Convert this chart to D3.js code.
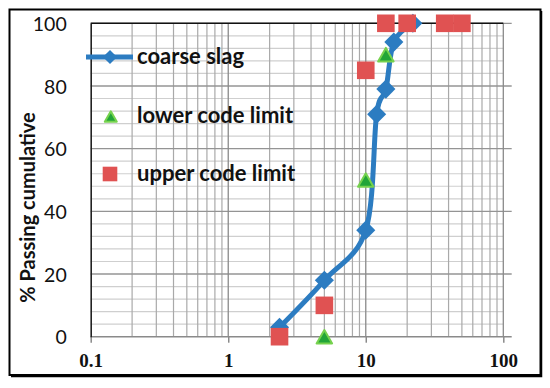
<!DOCTYPE html>
<html>
<head>
<meta charset="utf-8">
<script src="https://cdn.jsdelivr.net/npm/d3@7"></script>
<style>
  body { margin: 0; background: #fff; }
  svg { display: block; }
</style>
</head>
<body>
<div id="chart"></div>
<script>
// sieve size (mm) vs cumulative % passing
const slagSize = [2.36, 5, 10, 12, 14, 16, 22];
const slagPass = [3, 18, 34, 71, 79, 94, 100];
const lowerSize = [5, 10, 14];
const lowerPass = [0, 50, 90];
const upperSize = [2.36, 5, 10, 14, 20, 37.5, 50];
const upperPass = [0, 10, 85, 100, 100, 100, 100];
const xTicks = [0.1, 1, 10, 100];
const xTickLabels = ["0.1", "1", "10", "100"];
const yTicks = [0, 20, 40, 60, 80, 100];
const legendNames = ["coarse slag", "lower code limit", "upper code limit"];

const W = 550, H = 388;
const blue = "#2c7cc1", green = "#22a538", greenEdge = "#76d24e", red = "#e05252";

const svg = d3.select("#chart").append("svg")
    .attr("width", W).attr("height", H);

const x = d3.scaleLog().domain([0.1, 100]).range([90.7, 503.3]);
const y = d3.scaleLinear().domain([0, 100]).range([336.7, 23.3]);
const [x0, x1] = x.range();
const [yB, yT] = y.range();

// outer frame
svg.append("rect")
    .attr("x", 9.5).attr("y", 9.5).attr("width", 531).attr("height", 365.5)
    .attr("fill", "#fff").attr("stroke", "#000").attr("stroke-width", 2);
svg.append("path")
    .attr("d", `M541.5,11V376.5H11`)
    .attr("fill", "none").attr("stroke", "#000").attr("stroke-width", 1.5);

// grid
const grid = svg.append("g");
const hMinor = d3.range(0, 101, 4).filter(v => v % 20 !== 0);
grid.selectAll(".hmin").data(hMinor).join("line")
    .attr("x1", x0).attr("x2", x1)
    .attr("y1", d => y(d)).attr("y2", d => y(d))
    .attr("stroke", "#cfcfcf").attr("stroke-width", 1.2);

const vMinor = [];
[0.1, 1, 10].forEach(dec => d3.range(2, 10).forEach(k => vMinor.push(dec * k)));
grid.selectAll(".vmin").data(vMinor).join("line")
    .attr("x1", d => x(d)).attr("x2", d => x(d))
    .attr("y1", yT).attr("y2", yB)
    .attr("stroke", "#a9a9a9").attr("stroke-width", 1.2);

grid.selectAll(".hmaj").data(yTicks.filter(v => v > 0)).join("line")
    .attr("x1", x0).attr("x2", x1 + 8.4)
    .attr("y1", d => y(d)).attr("y2", d => y(d))
    .attr("stroke", "#949494").attr("stroke-width", 1.3);

grid.selectAll(".vmaj").data([1, 10, 100]).join("line")
    .attr("x1", d => x(d)).attr("x2", d => x(d))
    .attr("y1", yT).attr("y2", yB)
    .attr("stroke", "#8a8a8a").attr("stroke-width", 1.3);

// top edge of plot area
svg.append("line")
    .attr("x1", x0).attr("x2", x1).attr("y1", yT).attr("y2", yT)
    .attr("stroke", "#111").attr("stroke-width", 1.6);

// x axis
const xAxis = svg.append("g")
    .attr("transform", `translate(0,${yB})`)
    .call(d3.axisBottom(x).tickValues(xTicks)
        .tickFormat((d, i) => xTickLabels[i]).tickSize(6).tickSizeOuter(0));
xAxis.select(".domain").remove();
xAxis.append("line").attr("x1", x0).attr("x2", x1 + 8.4)
    .attr("stroke", "#8a8a8a").attr("stroke-width", 1.5);
xAxis.selectAll(".tick line").attr("stroke", "#8a8a8a").attr("stroke-width", 1.5);
xAxis.selectAll(".tick text")
    .attr("y", 24).attr("dy", "0.34em")
    .attr("fill", "#111")
    .style("font-family", "'Liberation Serif', 'Times New Roman', serif")
    .style("font-weight", "bold").style("font-size", "19px");

// y axis
const yAxis = svg.append("g")
    .attr("transform", `translate(${x0},0)`)
    .call(d3.axisLeft(y).tickValues(yTicks).tickSize(0).tickPadding(24));
yAxis.select(".domain").attr("stroke", "#222").attr("stroke-width", 1.6);
yAxis.selectAll(".tick text")
    .attr("dy", "0.36em").attr("fill", "#111")
    .style("font-family", "Lato, 'Open Sans', sans-serif")
    .style("font-size", "19.5px");

svg.append("text")
    .attr("transform", `translate(34.5,207.5) rotate(-90)`)
    .attr("text-anchor", "middle")
    .attr("fill", "#111")
    .style("font-family", "Lato, 'Open Sans', sans-serif")
    .style("font-weight", "bold").style("font-size", "20px")
    .text("% Passing cumulative");

// markers
const diamond = s => d3.symbol(d3.symbolSquare, s * s)();
const triangle = (w, h) => `M0,${-h / 2}L${w / 2},${h / 2}L${-w / 2},${h / 2}Z`;

const slag = slagSize.map((s, i) => ({ s, p: slagPass[i] }));
const lower = lowerSize.map((s, i) => ({ s, p: lowerPass[i] }));
const upper = upperSize.map((s, i) => ({ s, p: upperPass[i] }));

const line = d3.line().x(d => x(d.s)).y(d => y(d.p)).curve(d3.curveCatmullRom.alpha(0));
svg.append("path").datum(slag)
    .attr("d", line)
    .attr("fill", "none").attr("stroke", blue).attr("stroke-width", 5)
    .attr("stroke-linejoin", "round");
svg.append("g").selectAll("path").data(slag).join("path")
    .attr("d", diamond(13.5))
    .attr("transform", d => `translate(${x(d.s)},${y(d.p)}) rotate(45)`)
    .attr("fill", blue);

svg.append("g").selectAll("path").data(lower).join("path")
    .attr("d", triangle(15.5, 13.5))
    .attr("transform", d => `translate(${x(d.s)},${y(d.p)})`)
    .attr("fill", green).attr("stroke", greenEdge).attr("stroke-width", 2)
    .attr("stroke-linejoin", "round");

svg.append("g").selectAll("rect").data(upper).join("rect")
    .attr("x", d => x(d.s) - 8.8).attr("y", d => y(d.p) - 8.8)
    .attr("width", 17.6).attr("height", 17.6)
    .attr("fill", red);

// legend
const legend = svg.append("g").attr("transform", "translate(110,0)");
const rowY = [57, 116.5, 174];
legend.append("line").attr("x1", -24).attr("x2", 23).attr("y1", rowY[0]).attr("y2", rowY[0])
    .attr("stroke", blue).attr("stroke-width", 5);
legend.append("path").attr("d", diamond(10))
    .attr("transform", `translate(0,${rowY[0]}) rotate(45)`).attr("fill", blue);
legend.append("path").attr("d", triangle(12, 10.5))
    .attr("transform", `translate(0.8,${rowY[1]})`)
    .attr("fill", green).attr("stroke", greenEdge).attr("stroke-width", 2)
    .attr("stroke-linejoin", "round");
legend.append("rect").attr("x", -7.3).attr("y", rowY[2] - 7.3)
    .attr("width", 14.6).attr("height", 14.6).attr("fill", red);
legend.selectAll("text").data(legendNames).join("text")
    .attr("x", 27).attr("y", (d, i) => rowY[i] + 6.5)
    .attr("fill", "#111")
    .style("font-family", "Lato, 'Open Sans', sans-serif")
    .style("font-weight", "bold").style("font-size", "22px")
    .text(d => d);
</script>
</body>
</html>
